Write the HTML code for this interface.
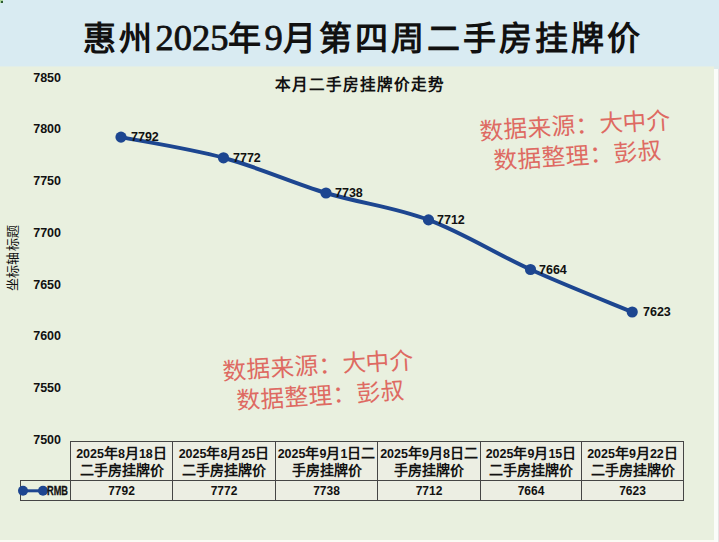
<!DOCTYPE html>
<html lang="zh-CN">
<head>
<meta charset="utf-8">
<style>
html,body{margin:0;padding:0;}
body{width:719px;height:542px;position:relative;overflow:hidden;background:#fafbf4;font-family:"Liberation Sans",sans-serif;}
.hdr{position:absolute;left:0;top:0;width:719px;height:67px;background:linear-gradient(#d9ebf2 66px,#e2eee8 66px);}
.plot{position:absolute;left:0;top:67px;width:714px;height:473px;background:#e9f0df;}
.rstrip{position:absolute;left:714px;top:69px;width:4px;height:474px;background:#fafcf9;border-right:1px solid #e6e3e3;}
.title{position:absolute;left:0;top:16px;width:726px;text-align:center;font-family:"Liberation Serif",serif;font-weight:bold;font-size:33px;line-height:44px;letter-spacing:3px;color:#111;white-space:nowrap;}
.title span{font-size:36.5px;font-weight:normal;letter-spacing:0;-webkit-text-stroke:0.8px #111;}
.ctitle{position:absolute;left:0;top:73px;width:719px;text-align:center;font-weight:bold;font-size:15.6px;line-height:24px;color:#111;white-space:nowrap;letter-spacing:1px;}
.yl{position:absolute;left:20px;width:41px;text-align:right;font-weight:bold;font-size:12.5px;line-height:14px;color:#111;}
.ytitle{position:absolute;left:-22px;top:250px;width:70px;text-align:center;font-size:13px;letter-spacing:0.3px;font-weight:500;line-height:16px;color:#111;transform:rotate(-90deg);white-space:nowrap;}
.dl{position:absolute;font-weight:bold;font-size:12.5px;line-height:14px;color:#111;}
.wm{position:absolute;font-family:"Liberation Serif",serif;font-size:23.7px;line-height:30px;color:#de6a62;font-weight:350;text-align:center;white-space:nowrap;transform:rotate(-3.5deg);}
table{position:absolute;left:20px;top:441px;border-collapse:collapse;}
td{border:1.3px solid #454545;padding:0;text-align:center;color:#111;background:#eceee3;}
td.h{width:101px;height:38px;font-weight:bold;font-size:14px;line-height:16px;}
td.h span{font-size:12.5px;}
td.v{height:19px;font-weight:bold;font-size:12px;line-height:14px;}
td.e{border:none;width:49px;background:transparent;}
td.lg{width:49px;background:transparent;text-align:right;font-weight:bold;font-size:12px;}
.rmb{position:absolute;left:40px;top:484px;width:28px;text-align:right;font-weight:bold;font-size:12px;line-height:14px;color:#111;-webkit-text-stroke:0.3px #111;transform:scaleX(0.77);transform-origin:right center;}
</style>
</head>
<body>
<div class="hdr"></div>
<div style="position:absolute;left:0;top:0;width:3px;height:3px;background:#a9d69a;"></div><div style="position:absolute;left:1px;top:1px;width:1.5px;height:1.5px;background:#2d5a35;"></div>
<div class="plot"></div>
<div style="position:absolute;left:714px;top:66px;width:5px;height:3px;background:#dcebec;"></div>
<div class="rstrip"></div>
<div class="title">惠州<span>2025</span>年<span>9</span>月第四周二手房挂牌价</div>
<div class="ctitle">本月二手房挂牌价走势</div>

<div class="yl" style="top:71px">7850</div>
<div class="yl" style="top:122px">7800</div>
<div class="yl" style="top:174px">7750</div>
<div class="yl" style="top:226px">7700</div>
<div class="yl" style="top:278px">7650</div>
<div class="yl" style="top:329px">7600</div>
<div class="yl" style="top:381px">7550</div>
<div class="yl" style="top:433px">7500</div>
<div class="ytitle">坐标轴标题</div>

<div class="wm" style="left:470px;top:111px;width:210px"><div style="margin-left:2px">数据来源：大中介</div><div style="margin-left:3px">数据整理：彭叔</div></div>
<div class="wm" style="left:213px;top:351px;width:210px"><div style="margin-left:2px">数据来源：大中介</div><div style="margin-left:3px">数据整理：彭叔</div></div>

<svg style="position:absolute;left:0;top:0" width="719" height="542" viewBox="0 0 719 542">
<path d="M121.0,137.1 C138.1,140.6 189.3,148.5 223.5,157.8 C257.7,167.1 291.8,182.6 326.0,193.0 C360.2,203.3 394.4,207.1 428.5,219.9 C462.6,232.6 496.6,254.2 530.5,269.5 C564.5,284.9 615.2,304.9 632.2,312.0" fill="none" stroke="#1d4690" stroke-width="4" stroke-linecap="round"/>
<g fill="#1d4690">
<circle cx="121.0" cy="137.1" r="5.6"/>
<circle cx="223.5" cy="157.8" r="5.6"/>
<circle cx="326.0" cy="193.0" r="5.6"/>
<circle cx="428.5" cy="219.9" r="5.6"/>
<circle cx="530.5" cy="269.5" r="5.6"/>
<circle cx="632.2" cy="312.0" r="5.6"/>
</g>
</svg>

<div class="dl" style="left:131px;top:130px">7792</div>
<div class="dl" style="left:233px;top:151px">7772</div>
<div class="dl" style="left:335px;top:186px">7738</div>
<div class="dl" style="left:437px;top:213px">7712</div>
<div class="dl" style="left:539px;top:263px">7664</div>
<div class="dl" style="left:643px;top:305px">7623</div>


<table>
<tr><td class="e"></td>
<td class="h" style="width:101px"><span>2025</span>年<span>8</span>月<span>18</span>日<br>二手房挂牌价</td>
<td class="h" style="width:102px"><span>2025</span>年<span>8</span>月<span>25</span>日<br>二手房挂牌价</td>
<td class="h" style="width:101px"><span>2025</span>年<span>9</span>月<span>1</span>日二<br>手房挂牌价</td>
<td class="h" style="width:102px"><span>2025</span>年<span>9</span>月<span>8</span>日二<br>手房挂牌价</td>
<td class="h" style="width:100px"><span>2025</span>年<span>9</span>月<span>15</span>日<br>二手房挂牌价</td>
<td class="h" style="width:101px"><span>2025</span>年<span>9</span>月<span>22</span>日<br>二手房挂牌价</td></tr>
<tr><td class="lg"></td>
<td class="v">7792</td><td class="v">7772</td><td class="v">7738</td><td class="v">7712</td><td class="v">7664</td><td class="v">7623</td></tr>
</table>
<svg style="position:absolute;left:0;top:0" width="719" height="542" viewBox="0 0 719 542">
<line x1="23" y1="490.8" x2="43" y2="490.8" stroke="#1d4690" stroke-width="3"/>
<circle cx="23" cy="490.8" r="5" fill="#1d4690"/>
<circle cx="43" cy="490.8" r="5" fill="#1d4690"/>
</svg>
<div class="rmb">RMB</div>

</body>
</html>
